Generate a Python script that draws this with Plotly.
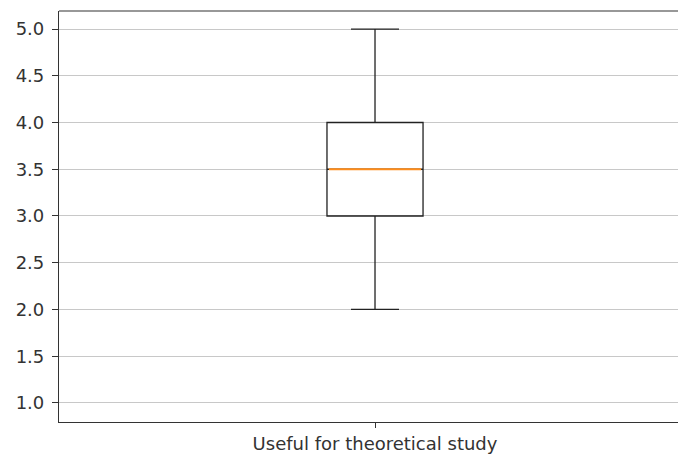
import plotly.graph_objects as go

# Summary statistics of the ratings
category = "Useful for theoretical study"
lower_whisker = [2.0]
q1 = [3.0]
median = [3.5]
q3 = [4.0]
upper_whisker = [5.0]

y_ticks = [1.0, 1.5, 2.0, 2.5, 3.0, 3.5, 4.0, 4.5, 5.0]
box_pos = 1
box_width = 0.152

fig = go.Figure()
fig.add_trace(go.Box(
    x=[box_pos], q1=q1, median=median, q3=q3,
    lowerfence=lower_whisker, upperfence=upper_whisker,
    width=box_width, whiskerwidth=0.5,
    line=dict(color="#222222", width=1.3),
    fillcolor="rgba(0,0,0,0)",
    boxpoints=False, showlegend=False, hoverinfo="skip",
))
# median line drawn in orange over the box
fig.add_trace(go.Scatter(
    x=[box_pos - box_width / 2 + 0.003, box_pos + box_width / 2 - 0.003],
    y=[median[0], median[0]],
    mode="lines", line=dict(color="#ff8c1a", width=2.2),
    showlegend=False, hoverinfo="skip",
))

# top spine only (no right spine)
fig.add_shape(type="line", xref="paper", yref="paper", x0=0, x1=1, y0=1, y1=1,
              line=dict(color="#333333", width=1.2))

fig.update_layout(
    width=678, height=455,
    margin=dict(l=59, r=0, t=11, b=33),
    paper_bgcolor="white", plot_bgcolor="white",
    font=dict(family="DejaVu Sans", size=18, color="#333333"),
    xaxis=dict(
        range=[0.5, 1.4794], tickvals=[box_pos], ticktext=[category],
        showgrid=False, zeroline=False,
        showline=True, linecolor="#333333", linewidth=1.2, mirror=False,
        ticks="outside", ticklen=5, tickcolor="#333333",
        ticklabelstandoff=0,
    ),
    yaxis=dict(
        range=[0.796, 5.193], tickvals=y_ticks,
        ticktext=[f"{v:.1f}" for v in y_ticks],
        showgrid=True, gridcolor="#c8c8c8", gridwidth=1,
        zeroline=False,
        showline=True, linecolor="#333333", linewidth=1.2, mirror=False,
        ticks="outside", ticklen=6, tickcolor="#333333",
        ticklabelstandoff=4,
    ),
)
fig.write_html("out.html")
